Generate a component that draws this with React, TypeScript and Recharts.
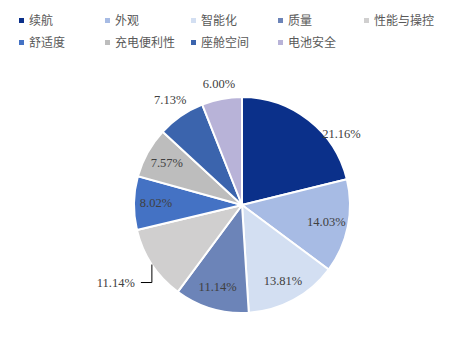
import React from "react";
import { PieChart, Pie, Cell } from "recharts";

const categories = ["续航", "外观", "智能化", "质量", "性能与操控", "舒适度", "充电便利性", "座舱空间", "电池安全"];
const shares = [21.16, 14.03, 13.81, 11.14, 11.14, 8.02, 7.57, 7.13, 6.0];

const COLORS = ["#0b308a", "#a7bbe4", "#d3dff2", "#6c84b8", "#d0cfcf", "#4472c4", "#bdbdbd", "#3b64ad", "#b8b3d8"];
const TEXT_COLOR = "#404040";
const RADIAN = Math.PI / 180;

const data = categories.map((name, i) => ({ name, value: shares[i] }));

// label placement per slice: radius and angle shift (like Excel's best fit)
const labelPlacement: Record<number, { r: number; shift?: number; leader?: boolean }> = {
  0: { r: 122, shift: -16.5 },
  4: { r: 108, leader: true },
  7: { r: 127 },
  8: { r: 123 },
};

function renderLabel(props: any) {
  const { cx, cy, midAngle, index, value } = props;
  const place = labelPlacement[index] ?? { r: 86 };
  const ang = (midAngle + (place.shift ?? 0)) * RADIAN;
  const x = cx + place.r * Math.cos(-ang);
  const y = cy + place.r * Math.sin(-ang);
  const text = `${Number(value).toFixed(2)}%`;
  const style = { fontFamily: "'Liberation Serif', serif", fontSize: 12.5, fill: TEXT_COLOR };
  if (place.leader) {
    const p1y = y + 18;
    const p2x = x - 11;
    return (
      <g>
        <polyline points={`${x},${y} ${x},${p1y} ${p2x},${p1y}`} fill="none" stroke="#000" strokeWidth={1} />
        <text x={p2x - 6} y={p1y} textAnchor="end" dominantBaseline="central" style={style}>
          {text}
        </text>
      </g>
    );
  }
  return (
    <text x={x} y={y} textAnchor="middle" dominantBaseline="central" style={style}>
      {text}
    </text>
  );
}

function LegendBlock() {
  return (
    <div
      style={{
        position: "absolute",
        left: 19,
        top: 12,
        display: "grid",
        gridTemplateColumns: "86px 86px 87px 86px 86px",
        rowGap: 6,
        fontFamily: "'Noto Sans CJK SC', sans-serif",
        fontSize: 12,
        color: "#595959",
        lineHeight: "16px",
      }}
    >
      {categories.map((c, i) => (
        <div key={c} style={{ display: "flex", alignItems: "center" }}>
          <span style={{ width: 5, height: 5, background: COLORS[i], marginRight: 5, display: "inline-block" }} />
          <span>{c}</span>
        </div>
      ))}
    </div>
  );
}

export default function App() {
  return (
    <div style={{ position: "absolute", left: 0, top: 0, width: 449, height: 359, background: "#fff" }}>
      <PieChart width={449} height={359} margin={{ top: 0, right: 0, bottom: 0, left: 0 }}>
        <Pie
          data={data}
          dataKey="value"
          nameKey="name"
          cx={242}
          cy={205}
          outerRadius={108}
          startAngle={90}
          endAngle={-270}
          stroke="#fff"
          strokeWidth={2}
          label={renderLabel}
          labelLine={false}
          isAnimationActive={false}
        >
          {data.map((d, i) => (
            <Cell key={d.name} fill={COLORS[i]} />
          ))}
        </Pie>
      </PieChart>
      <LegendBlock />
    </div>
  );
}
